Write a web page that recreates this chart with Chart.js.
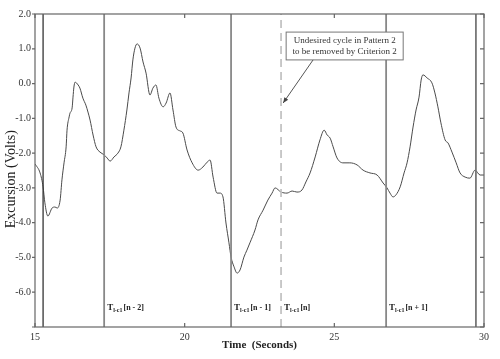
<!DOCTYPE html>
<html>
<head>
<meta charset="utf-8">
<script src="https://cdn.jsdelivr.net/npm/chart.js@4.4.0/dist/chart.umd.min.js"></script>
<style>
  html, body { margin: 0; padding: 0; background: #fff; }
  #wrap { width: 500px; height: 359px; }
</style>
</head>
<body>
<div id="wrap"><canvas id="chart" width="500" height="359"></canvas></div>
<script>
// signal: time (s) and excursion (V)
const timeSec = [15.00, 15.17, 15.27, 15.33, 15.43, 15.57, 15.67, 15.74, 15.84, 15.90, 15.97, 16.04, 16.07, 16.14, 16.17, 16.24, 16.27, 16.30, 16.34, 16.44, 16.50, 16.60, 16.70, 16.77, 16.84, 16.94, 17.04, 17.17, 17.31, 17.41, 17.51, 17.64, 17.77, 17.87, 17.97, 18.07, 18.14, 18.21, 18.27, 18.34, 18.41, 18.51, 18.61, 18.71, 18.84, 18.94, 19.04, 19.14, 19.28, 19.38, 19.51, 19.61, 19.71, 19.84, 19.94, 20.08, 20.25, 20.45, 20.61, 20.75, 20.85, 20.95, 21.08, 21.18, 21.28, 21.38, 21.48, 21.55, 21.65, 21.75, 21.85, 21.98, 22.08, 22.18, 22.35, 22.45, 22.62, 22.78, 22.92, 23.02, 23.22, 23.42, 23.59, 23.75, 23.92, 24.05, 24.19, 24.36, 24.52, 24.66, 24.76, 24.86, 24.96, 25.09, 25.29, 25.52, 25.76, 25.96, 26.19, 26.43, 26.63, 26.76, 26.86, 26.96, 27.06, 27.20, 27.33, 27.43, 27.53, 27.63, 27.73, 27.83, 27.90, 27.96, 28.10, 28.26, 28.36, 28.46, 28.56, 28.70, 28.80, 28.93, 29.07, 29.20, 29.37, 29.53, 29.70, 29.87, 30.00];
const excursion = [-2.31, -2.57, -2.97, -3.43, -3.81, -3.58, -3.55, -3.58, -3.35, -2.77, -2.28, -1.82, -1.34, -0.96, -0.85, -0.70, -0.39, -0.10, 0.04, -0.04, -0.13, -0.42, -0.62, -0.82, -1.05, -1.48, -1.82, -1.97, -2.05, -2.14, -2.23, -2.11, -2.00, -1.82, -1.34, -0.76, -0.27, 0.16, 0.68, 1.02, 1.14, 1.02, 0.62, 0.30, -0.33, -0.13, -0.04, -0.42, -0.67, -0.56, -0.27, -0.76, -1.25, -1.36, -1.42, -1.91, -2.28, -2.49, -2.40, -2.26, -2.20, -2.69, -3.15, -3.15, -3.26, -4.01, -4.58, -4.99, -5.27, -5.45, -5.36, -4.99, -4.79, -4.58, -4.21, -3.92, -3.64, -3.35, -3.15, -3.00, -3.12, -3.15, -3.09, -3.12, -3.06, -2.83, -2.57, -2.11, -1.62, -1.34, -1.48, -1.57, -1.82, -2.14, -2.28, -2.28, -2.34, -2.49, -2.57, -2.63, -2.86, -3.00, -3.15, -3.26, -3.20, -2.97, -2.57, -2.28, -1.82, -1.25, -0.76, -0.39, 0.10, 0.25, 0.16, 0.02, -0.27, -0.67, -1.13, -1.62, -1.71, -1.97, -2.28, -2.57, -2.69, -2.72, -2.49, -2.63, -2.63];

// vertical markers
const markerTimes = [15.27, 17.31, 21.55, 23.22, 26.73, 29.73];
const markerColors = ["#333", "#888", "#888", "#c4c4c4", "#888", "#777"];
const markerDash = [[], [], [], [8, 5], [], []];
const markerLabels = ["", "[n - 2]", "[n - 1]", "[n]", "[n + 1]", ""];

const xTicks = [15, 20, 25, 30];
const yMin = -7, yMax = 2;

const serif = "'Liberation Serif', 'DejaVu Serif', serif";

const datasets = markerTimes.map((t, i) => ({
    data: [{ x: t, y: yMin }, { x: t, y: yMax }],
    borderColor: markerColors[i],
    borderWidth: i === 0 ? 1.3 : 1.8,
    borderDash: markerDash[i],
    pointRadius: 0,
    tension: 0
}));
datasets.push({
    data: timeSec.map((t, i) => ({ x: t, y: excursion[i] })),
    borderColor: "#4a4a4a",
    borderWidth: 1,
    pointRadius: 0,
    cubicInterpolationMode: "monotone"
});

// frame, ticks, marker labels, annotation, y title
const decor = {
    id: "decor",
    afterDatasetsDraw(chart) {
        const { ctx, chartArea: a, scales } = chart;
        const xs = scales.x, ys = scales.y;
        ctx.save();
        ctx.strokeStyle = "#666";
        ctx.lineWidth = 1.2;
        ctx.strokeRect(a.left, a.top, a.right - a.left, a.bottom - a.top);
        ctx.beginPath();
        xTicks.forEach(v => {
            const px = xs.getPixelForValue(v);
            ctx.moveTo(px, a.bottom); ctx.lineTo(px, a.bottom - 4);
            ctx.moveTo(px, a.top); ctx.lineTo(px, a.top + 4);
        });
        for (let v = yMin; v <= yMax; v++) {
            const py = ys.getPixelForValue(v);
            ctx.moveTo(a.left - 3, py); ctx.lineTo(a.left, py);
            ctx.moveTo(a.right, py); ctx.lineTo(a.right - 4, py);
        }
        ctx.stroke();

        // T_{l-c1}[...] labels
        ctx.fillStyle = "#222";
        ctx.textBaseline = "alphabetic";
        ctx.textAlign = "left";
        const base = ys.getPixelForValue(-6.5);
        markerTimes.forEach((t, i) => {
            if (!markerLabels[i]) return;
            let px = xs.getPixelForValue(t) + 3;
            ctx.font = "bold 9px " + serif;
            ctx.fillText("T", px, base);
            px += ctx.measureText("T").width;
            ctx.font = "bold 6px " + serif;
            ctx.fillText("l-c1", px, base + 2);
            px += ctx.measureText("l-c1").width + 1;
            ctx.font = "bold 8px " + serif;
            ctx.fillText(markerLabels[i], px, base);
        });

        // annotation box
        const bx0 = xs.getPixelForValue(23.39), bx1 = xs.getPixelForValue(27.30);
        const by0 = ys.getPixelForValue(1.48), by1 = ys.getPixelForValue(0.68);
        ctx.fillStyle = "#fff";
        ctx.fillRect(bx0, by0, bx1 - bx0, by1 - by0);
        ctx.strokeStyle = "#777";
        ctx.lineWidth = 1;
        ctx.strokeRect(bx0, by0, bx1 - bx0, by1 - by0);
        ctx.fillStyle = "#333";
        ctx.font = "9px " + serif;
        ctx.textAlign = "center";
        ctx.textBaseline = "middle";
        const cx = (bx0 + bx1) / 2;
        ctx.fillText("Undesired cycle in Pattern 2", cx, by0 + 9);
        ctx.fillText("to be removed by Criterion 2", cx, by0 + 20);

        // arrow
        const ax0 = xs.getPixelForValue(24.29), ay0 = ys.getPixelForValue(0.68);
        const ax1 = xs.getPixelForValue(23.29), ay1 = ys.getPixelForValue(-0.56);
        ctx.strokeStyle = "#555";
        ctx.beginPath();
        ctx.moveTo(ax0, ay0); ctx.lineTo(ax1, ay1);
        ctx.stroke();
        const ang = Math.atan2(ay1 - ay0, ax1 - ax0);
        ctx.fillStyle = "#444";
        ctx.beginPath();
        ctx.moveTo(ax1, ay1);
        ctx.lineTo(ax1 - 6 * Math.cos(ang - 0.4), ay1 - 6 * Math.sin(ang - 0.4));
        ctx.lineTo(ax1 - 6 * Math.cos(ang + 0.4), ay1 - 6 * Math.sin(ang + 0.4));
        ctx.closePath();
        ctx.fill();

        // y axis title (sits a bit below the plot centre in the original)
        ctx.translate(11, ys.getPixelForValue(-2.75));
        ctx.rotate(-Math.PI / 2);
        ctx.fillStyle = "#222";
        ctx.font = "14px " + serif;
        ctx.fillText("Excursion (Volts)", 0, 0);
        ctx.restore();
    }
};

new Chart(document.getElementById("chart"), {
    type: "line",
    data: { datasets: datasets },
    options: {
        responsive: false,
        animation: false,
        layout: { padding: { left: 0, right: 16, top: 14, bottom: 0 } },
        plugins: { legend: { display: false }, tooltip: { enabled: false } },
        scales: {
            x: {
                type: "linear",
                min: 15,
                max: 30,
                grid: { display: false, drawTicks: false },
                border: { display: false },
                afterBuildTicks: s => { s.ticks = xTicks.map(v => ({ value: v })); },
                afterFit: s => { s.height = 32; },
                ticks: {
                    padding: 4,
                    color: "#333",
                    font: { family: serif, size: 10 },
                    maxRotation: 0
                },
                title: {
                    display: true,
                    text: "Time  (Seconds)",
                    color: "#222",
                    font: { family: serif, size: 11, weight: "bold" },
                    padding: { top: 0, bottom: 7 }
                }
            },
            y: {
                min: yMin,
                max: yMax,
                grid: { display: false, drawTicks: false },
                border: { display: false },
                afterFit: s => { s.width = 35; },
                ticks: {
                    stepSize: 1,
                    padding: 4,
                    color: "#333",
                    font: { family: serif, size: 10 },
                    callback: v => (v === yMin ? "" : v.toFixed(1))
                },
                title: { display: false }
            }
        }
    },
    plugins: [decor]
});
</script>
</body>
</html>
